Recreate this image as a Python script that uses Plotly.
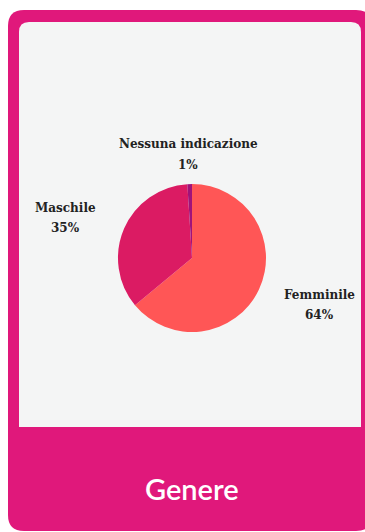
import plotly.graph_objects as go

# Gender breakdown
categories = ["Femminile", "Maschile", "Nessuna indicazione"]
shares = [64, 35, 1]
slice_colors = ["#FF5656", "#DB1B63", "#A0137A"]
card_title = "Genere"

W, H = 365, 532


def px(x, y):
    """Pixel position -> paper coordinates string."""
    return f"{x / W:.5f},{1 - y / H:.5f}"


def rounded_rect(x0, y0, x1, y1, r_top, r_bottom):
    return (
        f"M {px(x0 + r_top, y0)} L {px(x1 - r_top, y0)} "
        f"Q {px(x1, y0)} {px(x1, y0 + r_top)} "
        f"L {px(x1, y1 - r_bottom)} Q {px(x1, y1)} {px(x1 - r_bottom, y1)} "
        f"L {px(x0 + r_bottom, y1)} Q {px(x0, y1)} {px(x0, y1 - r_bottom)} "
        f"L {px(x0, y0 + r_top)} Q {px(x0, y0)} {px(x0 + r_top, y0)} Z"
    )


cx, cy, rad = 192, 258, 74

fig = go.Figure(
    go.Pie(
        labels=categories,
        values=shares,
        marker=dict(colors=slice_colors, line=dict(width=0)),
        sort=False,
        direction="clockwise",
        rotation=0,
        textinfo="none",
        hoverinfo="label+percent",
        showlegend=False,
        domain=dict(
            x=[(cx - rad) / W, (cx + rad) / W],
            y=[1 - (cy + rad) / H, 1 - (cy - rad) / H],
        ),
    )
)

shapes = [
    # magenta card
    dict(type="path", xref="paper", yref="paper",
         path=rounded_rect(8, 10, 372, 531, 16, 16),
         fillcolor="#E0187B", line=dict(width=0), layer="below"),
    # light panel holding the chart (rounded on top only)
    dict(type="path", xref="paper", yref="paper",
         path=rounded_rect(19, 22, 361, 427, 10, 0.01),
         fillcolor="#F4F5F5", line=dict(width=0), layer="below"),
]


def text_at(x, y, text, font):
    return dict(
        x=x / W, y=1 - y / H, xref="paper", yref="paper",
        xanchor="center", yanchor="middle",
        text=text, showarrow=False, font=font,
    )


# slice labels placed around the pie: (x, y of name line, y of percent line)
label_pos = {
    "Nessuna indicazione": (188, 144, 165),
    "Maschile": (65, 208, 228),
    "Femminile": (319, 295, 315),
}
label_font = dict(family="DejaVu Serif", size=12, color="#222222")
annotations = []
for name, val in zip(categories, shares):
    x, y_name, y_pct = label_pos[name]
    annotations.append(text_at(x, y_name, f"<b>{name}</b>", label_font))
    annotations.append(text_at(x, y_pct, f"<b>{val}%</b>", label_font))

annotations.append(text_at(
    192, 488, card_title,
    dict(family="Lato", size=29, color="#FFFFFF", weight=600),
))

fig.update_layout(
    width=W, height=H,
    margin=dict(l=0, r=0, t=0, b=0),
    paper_bgcolor="#FFFFFF",
    plot_bgcolor="#FFFFFF",
    shapes=shapes,
    annotations=annotations,
)

fig.write_html("out.html")
